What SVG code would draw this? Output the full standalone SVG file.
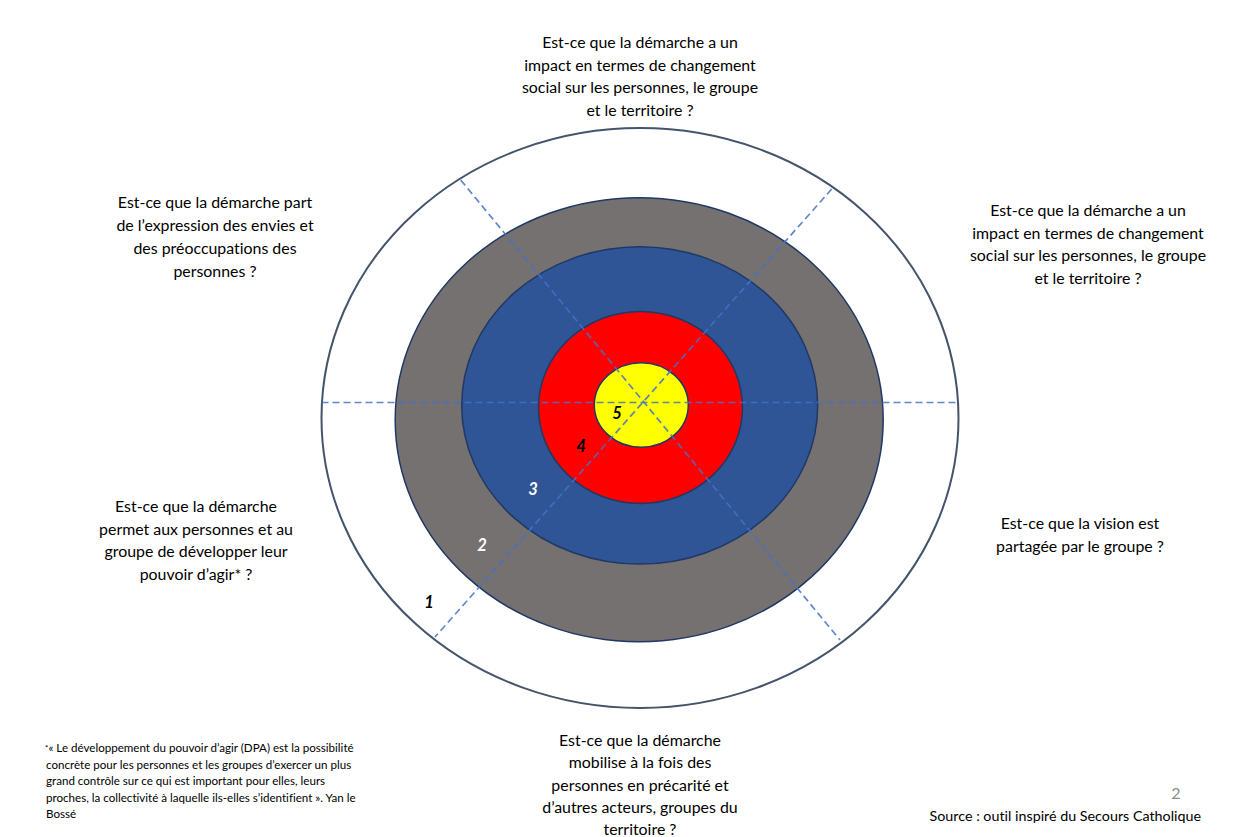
<svg xmlns="http://www.w3.org/2000/svg" width="1250" height="837" viewBox="0 0 1250 837">
<style>
text{font-variant-ligatures:none}
.q{font-family:Lato,"Liberation Sans",sans-serif;font-size:15.9px;fill:#000;text-anchor:middle}
.n{font-family:Lato,"Liberation Sans",sans-serif;font-size:16.5px;font-style:italic;font-weight:bold;text-anchor:middle}
.ring{stroke:#203864;stroke-width:1.5}
.dash{stroke:#4472C4;stroke-width:1.7;stroke-dasharray:7 4;fill:none;opacity:0.85}
.fn{font-family:Lato,"Liberation Sans",sans-serif;font-size:11.6px;fill:#000}
</style>
<rect width="1250" height="837" fill="#fff"/>
<g id="target">
<ellipse cx="640" cy="418" rx="318.5" ry="290" fill="#fff" stroke="#44546A" stroke-width="2"/>
<ellipse class="ring" cx="639.2" cy="419.7" rx="244" ry="222" fill="#767171"/>
<ellipse class="ring" cx="639.7" cy="405.4" rx="178" ry="158.7" fill="#2F5597"/>
<ellipse class="ring" cx="640.5" cy="407.5" rx="102" ry="96" fill="#FF0000"/>
<ellipse class="ring" cx="641.3" cy="405" rx="47" ry="42.3" fill="#FFFF00"/>
</g>
<g id="connectors">
<line class="dash" x1="321.5" y1="402.5" x2="958.5" y2="402.5"/>
<line class="dash" x1="460.7" y1="180" x2="840" y2="640"/>
<line class="dash" x1="831.7" y1="189" x2="435" y2="637"/>
</g>
<g id="scores">
<text class="n" x="429" y="608" fill="#000">1</text>
<text class="n" x="482" y="551" fill="#fff">2</text>
<text class="n" x="533" y="495" fill="#fff">3</text>
<text class="n" x="581" y="452" fill="#000">4</text>
<text class="n" x="617" y="419" fill="#000">5</text>
</g>
<g id="q-top">
<text class="q" x="640" y="48">Est-ce que la démarche a un</text>
<text class="q" x="640" y="70.5">impact en termes de changement</text>
<text class="q" x="640" y="93">social sur les personnes, le groupe</text>
<text class="q" x="640" y="115.5">et le territoire ?</text>
</g>
<g id="q-upper-left">
<text class="q" x="215" y="208">Est-ce que la démarche part</text>
<text class="q" x="215" y="231">de l’expression des envies et</text>
<text class="q" x="215" y="254">des préoccupations des</text>
<text class="q" x="215" y="277">personnes ?</text>
</g>
<g id="q-upper-right">
<text class="q" x="1088" y="216">Est-ce que la démarche a un</text>
<text class="q" x="1088" y="238.5">impact en termes de changement</text>
<text class="q" x="1088" y="261">social sur les personnes, le groupe</text>
<text class="q" x="1088" y="283.5">et le territoire ?</text>
</g>
<g id="q-lower-left">
<text class="q" x="196" y="512">Est-ce que la démarche</text>
<text class="q" x="196" y="534.5">permet aux personnes et au</text>
<text class="q" x="196" y="557">groupe de développer leur</text>
<text class="q" x="196" y="579.5">pouvoir d’agir* ?</text>
</g>
<g id="q-lower-right">
<text class="q" x="1080" y="529">Est-ce que la vision est</text>
<text class="q" x="1080" y="552">partagée par le groupe ?</text>
</g>
<g id="q-bottom">
<text class="q" x="640" y="746">Est-ce que la démarche</text>
<text class="q" x="640" y="768">mobilise à la fois des</text>
<text class="q" x="640" y="790.5">personnes en précarité et</text>
<text class="q" x="640" y="813">d’autres acteurs, groupes du</text>
<text class="q" x="640" y="835">territoire ?</text>
</g>
<g id="footnote">
<text class="fn" x="45" y="752"><tspan font-size="8" dy="-1">*</tspan><tspan dy="1">« Le développement du pouvoir d’agir (DPA) est la possibilité</tspan></text>
<text class="fn" x="46" y="768.5">concrète pour les personnes et les groupes d’exercer un plus</text>
<text class="fn" x="46" y="785">grand contrôle sur ce qui est important pour elles, leurs</text>
<text class="fn" x="46" y="801.5">proches, la collectivité à laquelle ils-elles s’identifient ». Yan le</text>
<text class="fn" x="46" y="818">Bossé</text>
</g>
<g id="source">
<text x="1176" y="799" font-family="Lato,'Liberation Sans',sans-serif" font-size="16" fill="#8C8C8C" text-anchor="middle">2</text>
<text x="1201" y="821" font-family="Lato,'Liberation Sans',sans-serif" font-size="14.3" fill="#000" text-anchor="end">Source : outil inspiré du Secours Catholique</text>
</g>
</svg>
